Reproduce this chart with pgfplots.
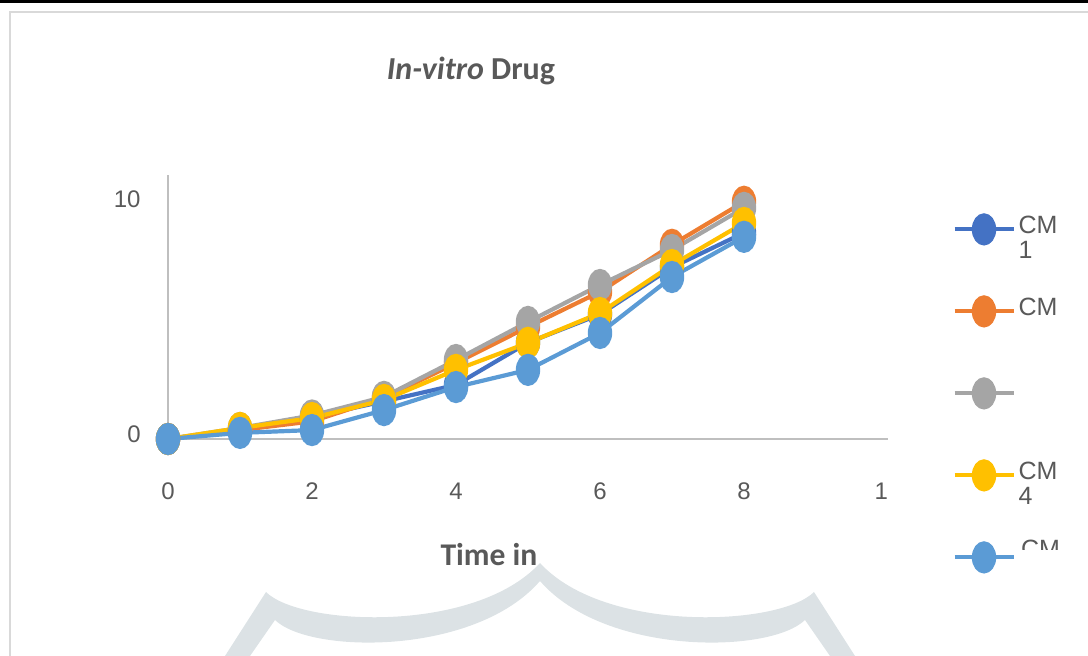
\documentclass[border=0pt]{standalone}
\usepackage{fontspec}
\setmainfont{Liberation Sans}
\newfontfamily\calibri{Carlito}
\usepackage{pgfplots}
\pgfplotsset{compat=1.18}

\definecolor{cmA}{HTML}{4472C4}
\definecolor{cmB}{HTML}{ED7D31}
\definecolor{cmC}{HTML}{A5A5A5}
\definecolor{cmD}{HTML}{FFC000}
\definecolor{cmE}{HTML}{5B9BD5}
\definecolor{txt}{HTML}{595959}
\definecolor{axisgray}{HTML}{BFBFBF}
\definecolor{framegray}{HTML}{D9D9D9}
\definecolor{crest}{HTML}{DCE2E5}

\begin{document}
\begin{tikzpicture}
\path[use as bounding box] (0,0) rectangle (544pt,328pt);

% page frame and the crest outline behind the chart (pixel-like units, y downwards)
\begin{scope}[x=0.5pt,y=-0.5pt,yshift=328pt]
  \fill[black] (0,0) rectangle (1088,2.7);
  \draw[framegray, line width=1pt] (10,656) -- (10,12) -- (1088,12);
  \fill[crest] (225,656) -- (266,592)
     .. controls (300,626) and (475,634) .. (540,563)
     .. controls (605,634) and (780,626) .. (814,592)
     -- (855,656) -- (830,656) -- (805,620)
     .. controls (770,654) and (605,656) .. (540,581)
     .. controls (475,656) and (310,654) .. (275,620)
     -- (250,656) -- cycle;
\end{scope}

\begin{axis}[
  at={(84pt,108.5pt)}, anchor=south west,
  width=360pt, height=132pt, scale only axis,
  xmin=0, xmax=10, ymin=0, ymax=11.23,
  axis x line*=bottom, axis y line*=left,
  axis line style={draw=axisgray, line width=1pt},
  xtick={0,2,4,6,8,10},
  xticklabels={0,2,4,6,8,1\phantom{0}},
  ytick={0,10},
  major tick length=0pt,
  /pgf/number format/assume math mode=true,
  tick label style={font=\fontsize{12}{14}\selectfont, text=txt},
  xticklabel style={anchor=center, yshift=-26pt},
  yticklabel style={anchor=east, inner sep=0pt, xshift=-13.5pt, yshift=2.5pt},
  clip=false,
  every axis plot/.append style={line width=2.1pt, mark=*, mark size=7pt,
    mark options={xscale=0.72, solid}},
  legend image code/.code={%
    \draw[mark repeat=2, mark phase=2] plot coordinates {(0pt,0pt) (14.75pt,0pt) (29.5pt,0pt)};},
  legend cell align=left,
  legend style={at={(axis description cs:1.0889,0.8485)}, anchor=north west,
    draw=none, fill=none, inner sep=0pt, row sep=27pt, column sep=1.5pt,
    font=\fontsize{12.5}{12.5}\selectfont, text=txt,
    nodes={inner sep=0pt, text height=9pt, text depth=5pt}},
]
\addplot[color=cmA] coordinates {(0,0) (1,0.38) (2,0.94) (3,1.60) (4,2.30) (5,4.10) (6,5.30) (7,7.30) (8,8.77)};
\addlegendentry{\rlap{\raisebox{-12.5pt}{1}}CM}
\addplot[color=cmB] coordinates {(0,0) (1,0.38) (2,0.75) (3,1.75) (4,3.23) (5,4.77) (6,6.26) (7,8.26) (8,10.09)};
\addlegendentry{CM}
\addplot[color=cmC] coordinates {(0,0) (1,0.47) (2,1.00) (3,1.79) (4,3.36) (5,4.98) (6,6.55) (7,8.04) (8,9.83)};
\addlegendentry{\phantom{CM}}
\addplot[color=cmD] coordinates {(0,0) (1,0.47) (2,0.89) (3,1.66) (4,2.94) (5,4.09) (6,5.36) (7,7.40) (8,9.19)};
\addlegendentry{\rlap{\raisebox{-12.5pt}{4}}CM}
\addplot[color=cmE] coordinates {(0,0) (1,0.26) (2,0.38) (3,1.23) (4,2.21) (5,2.94) (6,4.51) (7,6.89) (8,8.60)};
\addlegendentry{\tikz[baseline=-2pt]{\clip (-1pt,4pt) rectangle (30pt,15pt);
  \node[inner sep=0pt, anchor=base west, text height={}, text depth={}] at (0,0) {CM};}}
\end{axis}

% title and axis title
\begin{scope}[x=0.5pt,y=-0.5pt,yshift=328pt]
  \node[anchor=base, text=txt, font=\calibri\bfseries\fontsize{16}{18}\selectfont]
    at (471,80) {\textit{In-vitro} Drug};
  \node[anchor=base, text=txt, font=\calibri\bfseries\fontsize{15.8}{18}\selectfont]
    at (489,566) {Time in};
\end{scope}
\end{tikzpicture}
\end{document}
